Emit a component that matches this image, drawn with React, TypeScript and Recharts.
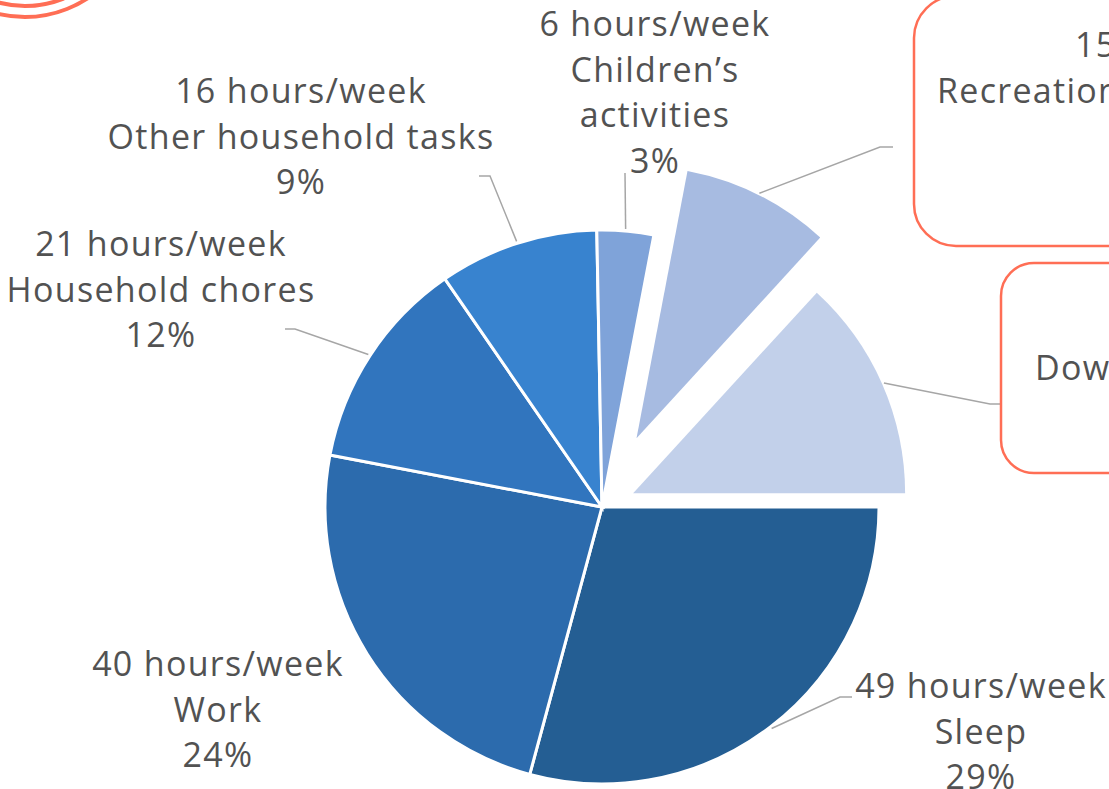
import React from 'react';
import { PieChart, Pie, Cell, Sector } from 'recharts';

// time use per week, shares
const CATEGORIES = [
  'Sleep',
  'Work',
  'Household chores',
  'Other household tasks',
  'Children’s\nactivities',
  'Recreation',
  'Downtime',
];
const SHARE = [29.2, 23.8, 12.4, 9.3, 3.3, 8.8, 13.2];
const HOURS = [49, 40, 21, 16, 6, 15, 21];
const EXPLODE = [0, 0, 0, 0, 0, 77, 34];

const COLORS = ['#245E93', '#2C6BAD', '#3175BE', '#3883CF', '#7FA3D9', '#A7BBE1', '#C2D0EA'];

const W = 1109;
const H = 789;
const TEXT = '#525252';
const LEADER = '#A6A6A6';
const CORAL = '#FF6E55';
const FONT = '"Open Sans", Lato, sans-serif';
const FS = 34;
const LH = 45.5;

type Pt = [number, number];
interface LabelLayout {
  x: number[]; // x per line, negative = hidden behind the crop
  y: number; // first baseline
  anchor: 'middle' | 'start';
  path?: Pt[]; // leader elbow + end
}

const LAYOUT: LabelLayout[] = [
  { x: [981, 981, 981], y: 698, anchor: 'middle', path: [[840, 697], [852, 697]] },
  { x: [218, 218, 218], y: 676, anchor: 'middle' },
  { x: [161, 161, 161], y: 256, anchor: 'middle', path: [[295, 329], [285, 329]] },
  { x: [301, 301, 301], y: 103, anchor: 'middle', path: [[490, 176], [479, 176]] },
  { x: [655, 655, 655, 655], y: 36, anchor: 'middle', path: [[625, 173]] },
  { x: [1075, 937, -1], y: 57, anchor: 'start', path: [[880, 147], [893, 147]] },
  { x: [-1, 1035, -1], y: 334.5, anchor: 'start', path: [[990, 404], [1002, 404]] },
];

const data = CATEGORIES.map((name, i) => ({ name, value: SHARE[i] }));

const renderLabel = (props: any) => {
  const { cx, cy, midAngle, startAngle, endAngle, outerRadius, index, percent } = props;
  const lay = LAYOUT[index];
  const d = EXPLODE[index];
  const rad = (-midAngle * Math.PI) / 180;
  const ox = cx + d * Math.cos(rad);
  const oy = cy + d * Math.sin(rad);
  const r = d > 0 ? outerRadius - 5 : outerRadius;
  const sx = ox + (r + 2) * Math.cos(rad);
  const sy = oy + (r + 2) * Math.sin(rad);

  const lines = [
    `${HOURS[index]} hours/week`,
    ...CATEGORIES[index].split('\n'),
    `${Math.round(percent * 100)}%`,
  ];

  return (
    <g>
      {d > 0 && (
        <Sector
          cx={ox}
          cy={oy}
          innerRadius={0}
          outerRadius={r}
          startAngle={startAngle}
          endAngle={endAngle}
          fill={COLORS[index]}
          stroke="none"
        />
      )}
      {lay.path && (
        <polyline
          points={[[sx, sy], ...lay.path].map((p) => p.join(',')).join(' ')}
          fill="none"
          stroke={LEADER}
          strokeWidth={1.5}
        />
      )}
      {lines.map((t, k) =>
        lay.x[k] < 0 ? null : (
          <text
            key={k}
            x={lay.x[k]}
            y={lay.y + k * LH}
            textAnchor={lay.anchor}
            fontFamily={FONT}
            fontSize={FS}
            fontWeight={400}
            letterSpacing={1.3}
            fill={TEXT}
          >
            {t}
          </text>
        )
      )}
    </g>
  );
};

export default function App() {
  return (
    <div style={{ position: 'absolute', left: 0, top: 0, width: W, height: H, overflow: 'hidden', background: '#fff' }}>
      <PieChart width={W} height={H} margin={{ top: 0, right: 0, bottom: 0, left: 0 }}>
        <Pie
          data={data}
          dataKey="value"
          nameKey="name"
          cx={602}
          cy={507}
          outerRadius={277}
          startAngle={0}
          endAngle={-360}
          stroke="#fff"
          strokeWidth={3}
          label={renderLabel}
          labelLine={false}
          isAnimationActive={false}
        >
          {data.map((_e, i) => (
            <Cell key={`cell-${i}`} fill={EXPLODE[i] > 0 ? 'transparent' : COLORS[i]} stroke={EXPLODE[i] > 0 ? 'none' : '#fff'} />
          ))}
        </Pie>
      </PieChart>
      {/* slide decorations: coral rings and callout boxes */}
      <svg width={W} height={H} style={{ position: 'absolute', left: 0, top: 0, pointerEvents: 'none' }}>
        <circle cx={25} cy={-97} r={114} fill="none" stroke={CORAL} strokeWidth={4} />
        <circle cx={25} cy={-97} r={103} fill="none" stroke={CORAL} strokeWidth={4} />
        <rect x={914} y={-4} width={300} height={250} rx={42} fill="none" stroke={CORAL} strokeWidth={2.5} />
        <rect x={1001} y={263} width={200} height={210} rx={33} fill="none" stroke={CORAL} strokeWidth={2.5} />
      </svg>
    </div>
  );
}
